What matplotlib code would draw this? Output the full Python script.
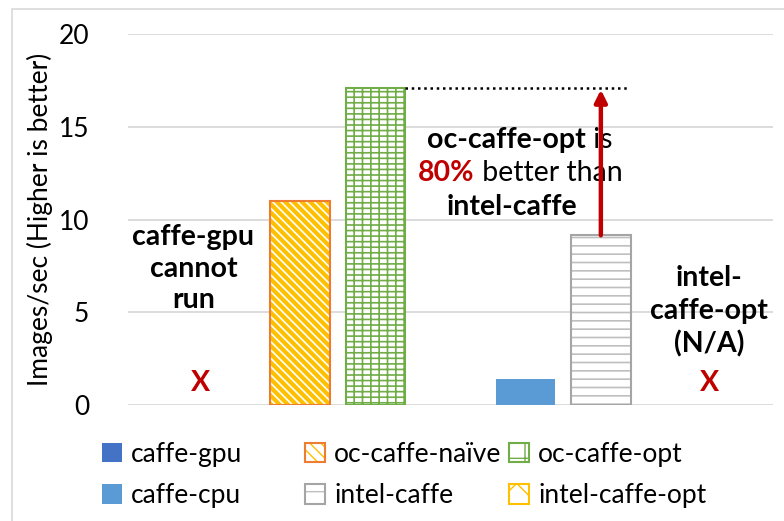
"""Throughput of caffe variants (images/sec), bar chart with annotations."""

import matplotlib
matplotlib.use('Agg')
import matplotlib.pyplot as plt
from matplotlib.patches import Patch, Rectangle

plt.rcParams['font.family'] = ['Lato', 'DejaVu Sans']

# Data (one bar slot per series, slot 3 is an empty gap)
series = ['caffe-gpu', 'oc-caffe-naïve', 'oc-caffe-opt', 'caffe-cpu', 'intel-caffe', 'intel-caffe-opt']
slots = [0, 1, 2, 4, 5, 6]
values = [0, 11.0, 17.1, 1.4, 9.15, 0]
yticks = [0, 5, 10, 15, 20]

# Excel-like palette
blue_dark = '#4472C4'
orange = '#ED7D31'
gold = '#FFC000'
green = '#70AD47'
blue_light = '#5B9BD5'
gray = '#A5A5A5'
red = '#C00000'

fig = plt.figure(figsize=(7.84, 5.21), dpi=100)
ax = fig.add_axes([128 / 784, 1 - 405 / 521, (773 - 128) / 784, (405 - 34) / 521])

w = 0.79
fs = 19      # normal text
fb = 20.5    # bold annotations

# oc-caffe-naive: gold stripes inside an orange border
with plt.rc_context({'hatch.linewidth': 3.0}):
    ax.bar(slots[1], values[1], w, color='white', edgecolor=gold, hatch='\\\\\\\\', linewidth=0, zorder=3)
ax.bar(slots[1], values[1], w, fill=False, edgecolor=orange, linewidth=1.5, zorder=4)

# oc-caffe-opt: green brick-ish pattern
with plt.rc_context({'hatch.linewidth': 1.2}):
    ax.bar(slots[2], values[2], w, color='white', edgecolor=green, hatch='---||', linewidth=1.5, zorder=3)

# caffe-cpu: solid
ax.bar(slots[3], values[3], w, color=blue_light, linewidth=0, zorder=3)

# intel-caffe: gray horizontal lines
with plt.rc_context({'hatch.linewidth': 1.2}):
    ax.bar(slots[4], values[4], w, color='white', edgecolor='#BFBFBF', hatch='--', linewidth=0, zorder=3)
ax.bar(slots[4], values[4], w, fill=False, edgecolor=gray, linewidth=1.5, zorder=4)

# dotted reference line and arrow
ax.plot([slots[2] + w / 2, 5.38], [values[2], values[2]], color='black', linestyle=(0, (1, 1.5)),
        linewidth=1.8, zorder=5)
ax.annotate('', xy=(slots[4], 17.0), xytext=(slots[4], values[4]),
            arrowprops=dict(arrowstyle='-|>', color=red, lw=3.2, mutation_scale=18,
                            shrinkA=0, shrinkB=0), zorder=6)

# annotations
ax.text(-0.42, 7.35, 'caffe-gpu\ncannot\nrun', ha='center', va='center', fontsize=fb,
        fontweight='bold', linespacing=1.25)
ax.text(-0.33, 1.19, 'X', ha='center', va='center', fontsize=fb, fontweight='bold', color=red)
ax.text(6.44, 5.05, 'intel-\ncaffe-opt\n(N/A)', ha='center', va='center', fontsize=fb,
        fontweight='bold', linespacing=1.3)
ax.text(6.44, 1.19, 'X', ha='center', va='center', fontsize=fb, fontweight='bold', color=red)

t1 = ax.text(4.8, 14.29, 'oc-caffe-opt', ha='right', va='center', fontsize=fb, fontweight='bold')
ax.annotate(' is', xy=(1, 0.5), xycoords=t1, ha='left', va='center', fontsize=fb)
t2 = ax.text(2.57, 12.5, '80%', ha='left', va='center', fontsize=fb, fontweight='bold', color=red)
ax.annotate(' better than', xy=(1, 0.5), xycoords=t2, ha='left', va='center', fontsize=fb)
ax.text(3.82, 10.67, 'intel-caffe', ha='center', va='center', fontsize=fb, fontweight='bold')

# axes styling
ax.set_xlim(-1.29, 7.29)
ax.set_ylim(0, 20)
ax.set_yticks(yticks)
ax.set_xticks([])
ax.tick_params(axis='y', length=0, labelsize=fs, pad=28)
ax.yaxis.grid(True, color='#D9D9D9', linewidth=1.3, zorder=0)
ax.set_axisbelow(True)
for s in ax.spines.values():
    s.set_visible(False)
ax.set_ylabel('Images/sec (Higher is better)', fontsize=fs, labelpad=4)

# legend, three columns of equal width like Excel
gpu_h = Patch(facecolor=blue_dark, edgecolor='none')
cpu_h = Patch(facecolor=blue_light, edgecolor='none')
with plt.rc_context({'hatch.linewidth': 2.0}):
    naive_h = (Patch(facecolor='white', edgecolor=gold, hatch='\\\\\\', linewidth=0),
               Patch(fill=False, edgecolor=orange, linewidth=1.5))
    intel_h = (Patch(facecolor='white', edgecolor='#BFBFBF', hatch='-', linewidth=0),
               Patch(fill=False, edgecolor=gray, linewidth=1.5))
    opt_h = Patch(facecolor='white', edgecolor=green, hatch='+', linewidth=1.5)
    iopt_h = Patch(facecolor='white', edgecolor=gold, hatch='x', linewidth=1.5)

columns = [([gpu_h, cpu_h], [series[0], series[3]], 102),
           ([naive_h, intel_h], [series[1], series[4]], 305),
           ([opt_h, iopt_h], [series[2], series[5]], 509)]
for handles, labels, px in columns:
    fig.legend(handles, labels, loc='upper left', bbox_to_anchor=(px / 784, 1 - 442 / 521),
               frameon=False, fontsize=fs, handlelength=0.75, handleheight=0.75,
               handletextpad=0.35, labelspacing=0.62, borderpad=0, borderaxespad=0)

# light frame round the chart area
fig.patches.append(Rectangle((12 / 784, -0.05), 1.0, 1.05 - 9 / 521, transform=fig.transFigure,
                             fill=False, edgecolor='#D9D9D9', linewidth=1.2))

fig.savefig('out.png', dpi=100)
